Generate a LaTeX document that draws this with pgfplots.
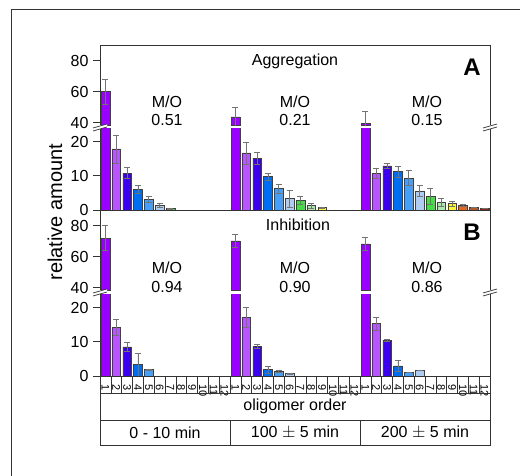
\documentclass[border=0pt]{standalone}
\usepackage{pgfplots}
\pgfplotsset{compat=1.18}
\usepackage{pgfplotstable}
\usepackage{fontspec}
\setmainfont{Liberation Sans}

% oligomer order colours
\definecolor{oc1}{RGB}{153,0,255}
\definecolor{oc2}{RGB}{185,85,255}
\definecolor{oc3}{RGB}{60,0,240}
\definecolor{oc4}{RGB}{0,110,240}
\definecolor{oc5}{RGB}{70,160,250}
\definecolor{oc6}{RGB}{175,205,240}
\definecolor{oc7}{RGB}{70,220,70}
\definecolor{oc8}{RGB}{170,235,170}
\definecolor{oc9}{RGB}{255,245,60}
\definecolor{oc10}{RGB}{230,100,30}
\definecolor{oc11}{RGB}{170,90,50}
\definecolor{oc12}{RGB}{140,40,20}
\colorlet{ln}{black!80}

\newcommand\txt{\fontsize{16}{18}\selectfont}

% g = time group (0,1,2), o = oligomer order, y = value, e = error
\pgfplotstableread{
g o y e
0 1 60 8
0 2 17.9 4.1
0 3 10.8 1.6
0 4 6.1 1.1
0 5 3.1 0.9
0 6 1.4 0.6
0 7 0.4 0.1
1 1 43.8 6
1 2 16.7 3.2
1 3 15.2 1.8
1 4 9.8 1.0
1 5 6.3 1.3
1 6 3.3 2.5
1 7 2.8 1.2
1 8 1.3 0.7
1 9 0.7 0.2
2 1 39.5 8
2 2 10.8 1.5
2 3 12.9 0.8
2 4 11.2 1.6
2 5 9.3 2.2
2 6 5.6 1.5
2 7 4.0 2.4
2 8 2.2 1.1
2 9 1.9 0.7
2 10 1.3 0.3
2 11 0.8 0
2 12 0.6 0
}\aggr

\pgfplotstableread{
g o y e
0 1 72 8
0 2 14.2 2.4
0 3 8.5 1.3
0 4 3.3 3.4
0 5 1.9 0.2
1 1 70.2 4.3
1 2 17.2 2.9
1 3 8.7 0.6
1 4 1.85 1.0
1 5 1.4 0.3
1 6 0.7 0.1
2 1 68.2 4
2 2 15.3 1.9
2 3 10.4 0.2
2 4 3.0 1.6
2 5 1.1 0
2 6 1.6 0
}\inhib

\newcommand\bars[1]{%
  \pgfplotsinvokeforeach{1,...,12}{%
    \addplot[ybar, bar shift=0pt, bar width=0.8, fill=oc##1, draw=black!75, line width=0.5pt,
      error bars/.cd, y dir=both, y explicit,
      error bar style={black!55, line width=0.6pt},
      error mark options={rotate=90, mark size=3pt, black!55, line width=0.6pt}]
      table[x expr=\thisrow{o}+12*\thisrow{g}, y=y, y error=e,
        restrict expr to domain={\thisrow{o}}{##1:##1}] {#1};
  }}

\pgfplotsset{
  seg/.style={scale only axis, width=390pt, xmin=0.5, xmax=36.5, anchor=south west,
    axis line style={ln, line width=0.8pt}, tick style={ln, line width=0.8pt},
    axis y line*=box, ytick pos=left, tick align=outside, major tick length=7pt,
    xtick=\empty, ticklabel style={font=\txt}, yticklabel style={xshift=-1pt},
    /pgf/number format/assume math mode=true},
  upper/.style={seg, height=80.5pt, ymin=38.2, ymax=90.1, ytick={40,60,80}, axis x line*=top,
    restrict y to domain=38.3:1000},
  lower/.style={seg, height=82pt, ymin=0, ymax=24, ytick={0,10,20}, axis x line*=bottom},
}

\newcommand\brk[2]{%
  \fill[white] (#1-7,#2+1.5) -- (#1+7,#2-2.5) -- (#1+7,#2+0.5) -- (#1-7,#2+4.5) -- cycle;
  \draw[ln, line width=0.7pt] (#1-7,#2+1.5) -- (#1+7,#2-2.5);
  \draw[ln, line width=0.7pt] (#1-7,#2+4.5) -- (#1+7,#2+0.5);
}

\begin{document}
\begin{tikzpicture}[x=1pt, y=-1pt]
\useasboundingbox (0,0) rectangle (520,476);
\draw[ln, line width=0.8pt] (11,476) -- (11,9) -- (520,9);

% panel A
\begin{axis}[upper, at={(100pt,-125.5pt)}]
  \bars{\aggr}
\end{axis}
\begin{axis}[lower, at={(100pt,-210pt)}]
  \bars{\aggr}
\end{axis}

% panel B
\begin{axis}[upper, at={(100pt,-290.5pt)}]
  \bars{\inhib}
\end{axis}
\begin{axis}[lower, at={(100pt,-376pt)},
    xtick={1,...,36}, xtick style={draw=none},
    xticklabels={1,2,3,4,5,6,7,8,9,10,11,12,1,2,3,4,5,6,7,8,9,10,11,12,1,2,3,4,5,6,7,8,9,10,11,12},
    xticklabel style={rotate=-90, anchor=west, font=\fontsize{11}{12}\selectfont, inner sep=1pt}]
  \bars{\inhib}
\end{axis}

\brk{100}{126.5}\brk{490}{126.5}
\brk{100}{291.5}\brk{490}{291.5}

% labels
\node[rotate=90, font=\fontsize{20}{22}\selectfont] at (55,212) {relative amount};
\node[font=\txt] at (295,61) {Aggregation};
\node[font=\fontsize{24}{26}\selectfont\bfseries] at (472,67) {A};
\node[font=\txt] at (167,102) {M/O};  \node[font=\txt] at (167,120) {0.51};
\node[font=\txt] at (295,102) {M/O};  \node[font=\txt] at (295,120) {0.21};
\node[font=\txt] at (427,102) {M/O};  \node[font=\txt] at (427,120) {0.15};

\node[font=\txt] at (298,225) {Inhibition};
\node[font=\fontsize{24}{26}\selectfont\bfseries] at (472,232) {B};
\node[font=\txt] at (167,267.5) {M/O};  \node[font=\txt] at (167,286.5) {0.94};
\node[font=\txt] at (295,267.5) {M/O};  \node[font=\txt] at (295,286.5) {0.90};
\node[font=\txt] at (427,267.5) {M/O};  \node[font=\txt] at (427,286.5) {0.86};

% category table under the bars
\draw[ln, line width=0.8pt] (100,376) rectangle (490,445);
\draw[ln, line width=0.8pt] (100,393) -- (490,393) (100,420) -- (490,420)
  (230,420) -- (230,445) (360,420) -- (360,445);
\foreach \k in {1,...,35} \draw[ln, line width=0.6pt] ({100+\k*130/12},376) -- ({100+\k*130/12},393);
\node[font=\txt] at (295,406.5) {oligomer order};
\node[font=\txt] at (165,432.5) {0 - 10 min};
\node[font=\txt] at (295,432.5) {100 $\pm$ 5 min};
\node[font=\txt] at (425,432.5) {200 $\pm$ 5 min};
\end{tikzpicture}
\end{document}
